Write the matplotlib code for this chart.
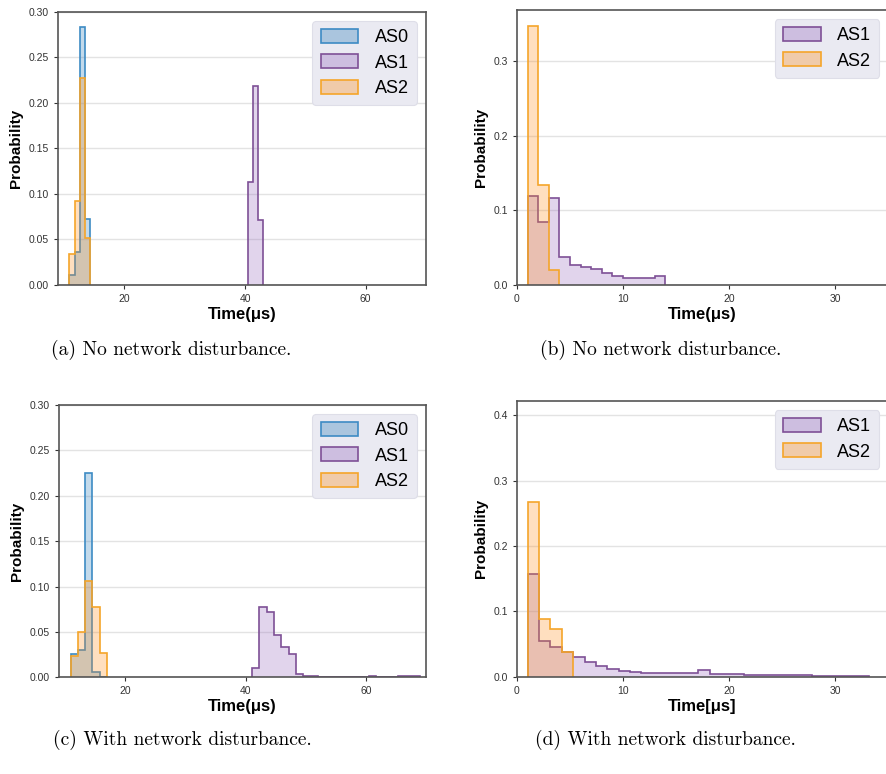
import numpy as np
import matplotlib
matplotlib.use('Agg')
from matplotlib import pyplot as plt
from matplotlib.patches import Patch

# (a) no disturbance, AS0/AS1/AS2
a_edges_low = [10.9, 11.76, 12.62, 13.48, 14.34]
a_as0 = [0.011, 0.036, 0.283, 0.073]
a_as2 = [0.034, 0.092, 0.228, 0.052]
a_edges_as1 = [40.5, 41.33, 42.16, 42.99]
a_as1 = [0.113, 0.219, 0.071]

# (b) no disturbance, AS1/AS2
b_edges_as1 = [1, 2, 3, 4, 5, 6, 7, 8, 9, 10, 11, 12, 13, 14]
b_as1 = [0.120, 0.084, 0.117, 0.037, 0.027, 0.024, 0.021, 0.016, 0.012, 0.010, 0.009, 0.010, 0.012]
b_edges_as2 = [1, 2, 3, 4]
b_as2 = [0.347, 0.134, 0.020]

# (c) with disturbance
c_edges_low = [11.02, 12.2, 13.38, 14.56, 15.74, 16.92]
c_as0 = [0.026, 0.030, 0.225, 0.006, 0.0]
c_as2 = [0.024, 0.050, 0.106, 0.078, 0.027]
c_edges_as1 = [41.1, 42.31, 43.52, 44.73, 45.94, 47.15, 48.36, 49.57, 50.78, 51.99, 53.2, 54.41,
               55.62, 56.83, 58.04, 59.25, 60.46, 61.67, 62.88, 64.09, 65.3, 66.51, 67.72, 68.93]
c_as1 = [0.010, 0.077, 0.072, 0.047, 0.033, 0.026, 0.004, 0.002, 0.001, 0.0005, 0.0, 0.0,
         0.0, 0.0, 0.0, 0.0, 0.001, 0.0, 0.0, 0.0, 0.0015, 0.0015, 0.0015]

# (d) with disturbance
d_edges = [1.0, 2.07, 3.15, 4.22, 5.29, 6.37, 7.44, 8.51, 9.58, 10.66, 11.73, 12.8, 13.88, 14.95,
           16.02, 17.1, 18.17, 19.24, 20.31, 21.39, 22.46, 23.53, 24.61, 25.68, 26.75, 27.82,
           28.9, 29.97, 31.04, 32.12, 33.19]
d_as1 = [0.157, 0.055, 0.046, 0.038, 0.030, 0.022, 0.016, 0.012, 0.009, 0.007, 0.006, 0.005,
         0.005, 0.005, 0.005, 0.010, 0.004, 0.004, 0.004, 0.003, 0.003, 0.003, 0.002, 0.002,
         0.002, 0.001, 0.001, 0.001, 0.0005, 0.0005]
d_as2 = [0.268, 0.089, 0.073, 0.038]

captions = ['(a) No network disturbance.', '(b) No network disturbance.',
            '(c) With network disturbance.', '(d) With network disturbance.']

col = {'AS0': ('#3d8bc4', '#2a7ab8'), 'AS1': ('#7e5096', '#9467bd'), 'AS2': ('#f5a52a', '#ff8c1a')}
ALPHA = 0.28

plt.rcParams['font.family'] = ['Liberation Sans', 'DejaVu Sans']

fig = plt.figure(figsize=(8.86, 7.74), dpi=100)
ax_a = fig.add_axes([0.0655, 0.6318, 0.4153, 0.3527])
ax_b = fig.add_axes([0.5835, 0.6318, 0.4190, 0.3553])
ax_c = fig.add_axes([0.0666, 0.1249, 0.4142, 0.3518])
ax_d = fig.add_axes([0.5835, 0.1257, 0.4190, 0.3562])


def hist(ax, vals, edges, name):
    line, fill = col[name]
    ax.stairs(vals, edges, fill=True, color=fill, alpha=ALPHA, lw=0)
    ax.stairs(vals, edges, color=line, lw=1.2, baseline=0)


def style(ax, names, xlabel):
    ax.set_facecolor('white')
    ax.grid(axis='y', color='#e3e3e3', lw=1)
    ax.grid(axis='x', visible=False)
    ax.set_axisbelow(True)
    for s in ax.spines.values():
        s.set_color('#555555')
        s.set_linewidth(1.2)
    ax.tick_params(labelsize=7.5, colors='#333333', length=3, width=0.8)
    ax.set_ylabel('Probability', fontsize=11, fontweight='bold', labelpad=4)
    ax.set_xlabel(xlabel, fontsize=12, fontweight='bold', labelpad=2)
    handles = [Patch(facecolor=matplotlib.colors.to_rgba(col[n][1], ALPHA + 0.05),
                     edgecolor=col[n][0], lw=1.2, label=n) for n in names]
    leg = ax.legend(handles=handles, loc='upper right', fontsize=13, frameon=True,
                    facecolor='#eaeaf2', edgecolor='#dedee8', framealpha=1,
                    handlelength=2.1, handleheight=0.8, handletextpad=0.9,
                    labelspacing=0.45, borderpad=0.45, fancybox=True)
    leg.get_frame().set_linewidth(0.8)


# (a)
hist(ax_a, a_as0, a_edges_low, 'AS0')
hist(ax_a, a_as1, a_edges_as1, 'AS1')
hist(ax_a, a_as2, a_edges_low, 'AS2')
ax_a.set_xlim(9, 70)
ax_a.set_ylim(0, 0.30)
ax_a.set_xticks([20, 40, 60])
ax_a.set_yticks(np.arange(0, 0.31, 0.05))
ax_a.yaxis.set_major_formatter(matplotlib.ticker.FormatStrFormatter('%.2f'))
style(ax_a, ['AS0', 'AS1', 'AS2'], 'Time(μs)')

# (b)
hist(ax_b, b_as1, b_edges_as1, 'AS1')
hist(ax_b, b_as2, b_edges_as2, 'AS2')
ax_b.set_xlim(0, 35)
ax_b.set_ylim(0, 0.369)
ax_b.set_xticks([0, 10, 20, 30])
ax_b.set_yticks([0, 0.1, 0.2, 0.3])
ax_b.yaxis.set_major_formatter(matplotlib.ticker.FormatStrFormatter('%.1f'))
style(ax_b, ['AS1', 'AS2'], 'Time(μs)')

# (c)
hist(ax_c, c_as0, c_edges_low, 'AS0')
hist(ax_c, c_as1, c_edges_as1, 'AS1')
hist(ax_c, c_as2, c_edges_low, 'AS2')
ax_c.set_xlim(9, 70)
ax_c.set_ylim(0, 0.30)
ax_c.set_xticks([20, 40, 60])
ax_c.set_yticks(np.arange(0, 0.31, 0.05))
ax_c.yaxis.set_major_formatter(matplotlib.ticker.FormatStrFormatter('%.2f'))
style(ax_c, ['AS0', 'AS1', 'AS2'], 'Time(μs)')

# (d)
hist(ax_d, d_as1, d_edges, 'AS1')
hist(ax_d, d_as2, d_edges[:5], 'AS2')
ax_d.set_xlim(0, 35)
ax_d.set_ylim(0, 0.422)
ax_d.set_xticks([0, 10, 20, 30])
ax_d.set_yticks([0, 0.1, 0.2, 0.3, 0.4])
ax_d.yaxis.set_major_formatter(matplotlib.ticker.FormatStrFormatter('%.1f'))
style(ax_d, ['AS1', 'AS2'], 'Time[μs]')

# captions
cap_pos = [(0.193, 1 - 350 / 774), (0.746, 1 - 350 / 774),
           (0.206, 1 - 740 / 774), (0.751, 1 - 740 / 774)]
for (x, y), t in zip(cap_pos, captions):
    fig.text(x, y, t, ha='center', va='center', fontsize=14, family=['cmr10', 'DejaVu Serif'])

fig.savefig('out.png', dpi=100)
